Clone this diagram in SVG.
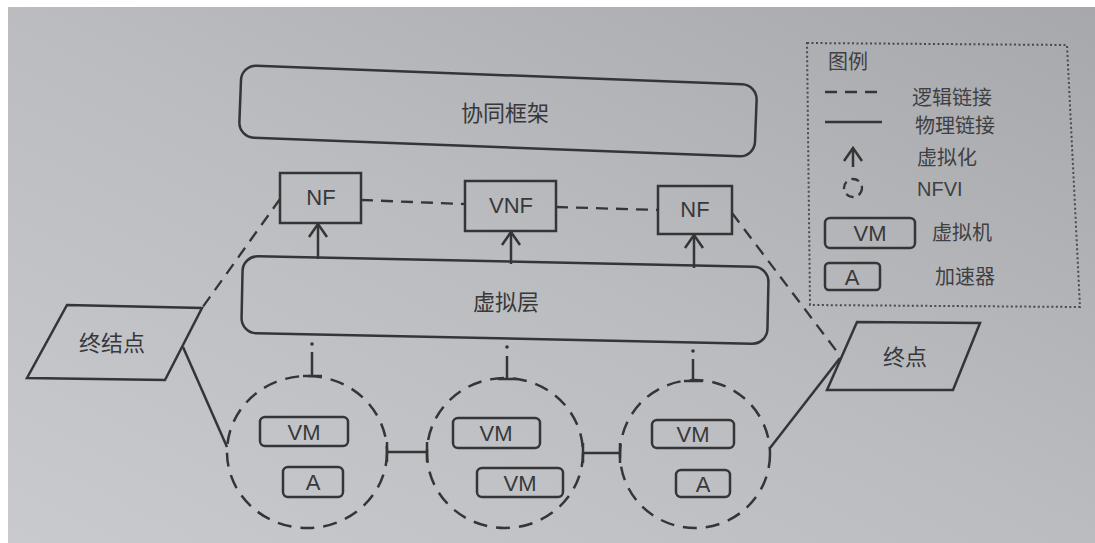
<svg xmlns="http://www.w3.org/2000/svg" width="1095" height="543" viewBox="0 0 1095 543">
<defs>
<linearGradient id="bg" x1="0" y1="1" x2="1" y2="0">
<stop offset="0" stop-color="#c9cacd"/>
<stop offset="0.5" stop-color="#bbbcc0"/>
<stop offset="1" stop-color="#a7a8ac"/>
</linearGradient>
<marker id="vir" viewBox="-15 -11 17 22" refX="0" refY="0" markerWidth="17" markerHeight="22" markerUnits="userSpaceOnUse" orient="auto">
<path d="M-13,-9 L0,0 L-13,9" fill="none" stroke="#353537" stroke-width="2.5"/>
</marker>
<style>
.ln{fill:none;stroke:#353537;stroke-width:2.5}
.box{fill:none;stroke:#353537;stroke-width:2.5}
.dash{fill:none;stroke:#353537;stroke-width:2.3;stroke-dasharray:12 8}
.nfvi{fill:none;stroke:#353537;stroke-width:2.5;stroke-dasharray:14 9}
.arr{fill:none;stroke:#353537;stroke-width:2.5;marker-end:url(#vir)}
.t{font-family:"Liberation Sans","Noto Sans CJK SC",sans-serif;fill:#38383a;text-anchor:middle;dominant-baseline:central}
.cn{font-size:22px}
.lat{font-size:22px}
.lg{font-family:"Liberation Sans","Noto Sans CJK SC",sans-serif;fill:#404042;font-size:20px;dominant-baseline:central}
</style>
</defs>
<rect width="1095" height="543" fill="#ffffff"/>
<rect x="8" y="7" width="1087" height="536" fill="url(#bg)"/>

<g id="legend">
<path d="M807,43 L1067,45 L1080,307 L810,305 Z" fill="none" stroke="#4a4a4c" stroke-width="2" stroke-dasharray="2 2.5"/>
<text class="lg" x="828" y="62" font-size="19">图例</text>
<line class="dash" x1="825" y1="92" x2="880" y2="92" stroke-dasharray="11 7"/>
<text class="lg" x="912" y="98" font-size="21">逻辑链接</text>
<line class="ln" x1="825" y1="122" x2="882" y2="122"/>
<text class="lg" x="915" y="126" font-size="21">物理链接</text>
<line class="arr" x1="853" y1="167" x2="853" y2="148"/>
<text class="lg" x="917" y="158" font-size="21">虚拟化</text>
<circle cx="853" cy="188" r="9" fill="none" stroke="#353537" stroke-width="2.3" stroke-dasharray="8 5.5"/>
<text class="lg" x="917" y="189" font-size="21">NFVI</text>
<rect class="box" x="825" y="218" width="90" height="30" rx="5"/>
<text class="t lat" x="870" y="233" font-size="21">VM</text>
<text class="lg" x="932" y="233" font-size="21">虚拟机</text>
<rect class="box" x="825" y="263" width="55" height="27" rx="4"/>
<text class="t lat" x="852" y="277" font-size="21">A</text>
<text class="lg" x="935" y="277" font-size="21">加速器</text>
</g>

<g id="connectors">
<line class="dash" x1="361" y1="200" x2="465" y2="204"/>
<line class="dash" x1="556" y1="207" x2="658" y2="210"/>
<line class="dash" x1="280" y1="199" x2="202" y2="308"/>
<line class="dash" x1="732" y1="213" x2="838" y2="353"/>
<line class="ln" x1="183" y1="347" x2="227" y2="447"/>
<line class="ln" x1="770" y1="448" x2="840" y2="358"/>
<line class="ln" x1="387" y1="452" x2="427" y2="452"/>
<line class="ln" x1="387" y1="442" x2="387" y2="462"/>
<line class="ln" x1="427" y1="442" x2="427" y2="462"/>
<line class="ln" x1="583" y1="453" x2="620" y2="453"/>
<line class="ln" x1="583" y1="443" x2="583" y2="463"/>
<line class="ln" x1="620" y1="443" x2="620" y2="463"/>
<line class="arr" x1="318" y1="259" x2="318" y2="224"/>
<line class="arr" x1="511" y1="264" x2="511" y2="232"/>
<line class="arr" x1="694" y1="268" x2="694" y2="235"/>
<circle cx="312" cy="344" r="1.8" fill="#353537"/>
<line class="ln" x1="312" y1="352" x2="312" y2="376"/>
<line class="ln" x1="303" y1="376" x2="322" y2="376"/>
<circle cx="507" cy="347" r="1.8" fill="#353537"/>
<line class="ln" x1="507" y1="356" x2="507" y2="379"/>
<line class="ln" x1="498" y1="379" x2="517" y2="379"/>
<circle cx="693" cy="351" r="1.8" fill="#353537"/>
<line class="ln" x1="693" y1="359" x2="693" y2="381"/>
<line class="ln" x1="684" y1="381" x2="703" y2="381"/>
</g>

<g id="collab">
<rect class="box" x="240" y="75" width="516" height="72" rx="15" transform="rotate(2.2 498 111)"/>
<text class="t cn" x="505" y="113" font-size="22">协同框架</text>
</g>

<g id="nf1">
<rect class="box" x="280" y="173" width="81" height="50"/>
<text class="t lat" x="321" y="197" font-size="24">NF</text>
</g>
<g id="vnf">
<rect class="box" x="465" y="181" width="91" height="50"/>
<text class="t lat" x="511" y="205" font-size="24">VNF</text>
</g>
<g id="nf2">
<rect class="box" x="658" y="186" width="74" height="48"/>
<text class="t lat" x="695" y="209" font-size="24">NF</text>
</g>

<g id="virt">
<rect class="box" x="242" y="261.5" width="526" height="77" rx="15" transform="rotate(1.2 505 300)"/>
<text class="t cn" x="506" y="302" font-size="22">虚拟层</text>
</g>

<g id="end-left">
<path class="box" d="M67,305 L202,308 L165,380 L27,378 Z"/>
<text class="t cn" x="112" y="343" font-size="22">终结点</text>
</g>
<g id="end-right">
<path class="box" d="M857,322 L980,323 L953,390 L827,390 Z"/>
<text class="t cn" x="905" y="357" font-size="22">终点</text>
</g>

<g id="nfvi1">
<ellipse class="nfvi" cx="307" cy="452" rx="80" ry="76"/>
<rect class="box" x="260" y="417" width="88" height="29" rx="5"/>
<text class="t lat" x="304" y="432" font-size="21">VM</text>
<rect class="box" x="283" y="467" width="60" height="30" rx="5"/>
<text class="t lat" x="313" y="482" font-size="21">A</text>
</g>
<g id="nfvi2">
<ellipse class="nfvi" cx="505" cy="453" rx="78" ry="75"/>
<rect class="box" x="453" y="418" width="87" height="30" rx="5"/>
<text class="t lat" x="496" y="433" font-size="21">VM</text>
<rect class="box" x="477" y="468" width="86" height="29" rx="5"/>
<text class="t lat" x="520" y="483" font-size="21">VM</text>
</g>
<g id="nfvi3">
<ellipse class="nfvi" cx="695" cy="454" rx="75" ry="74"/>
<rect class="box" x="652" y="420" width="82" height="28" rx="5"/>
<text class="t lat" x="693" y="434" font-size="21">VM</text>
<rect class="box" x="676" y="470" width="54" height="27" rx="5"/>
<text class="t lat" x="703" y="484" font-size="21">A</text>
</g>
</svg>
